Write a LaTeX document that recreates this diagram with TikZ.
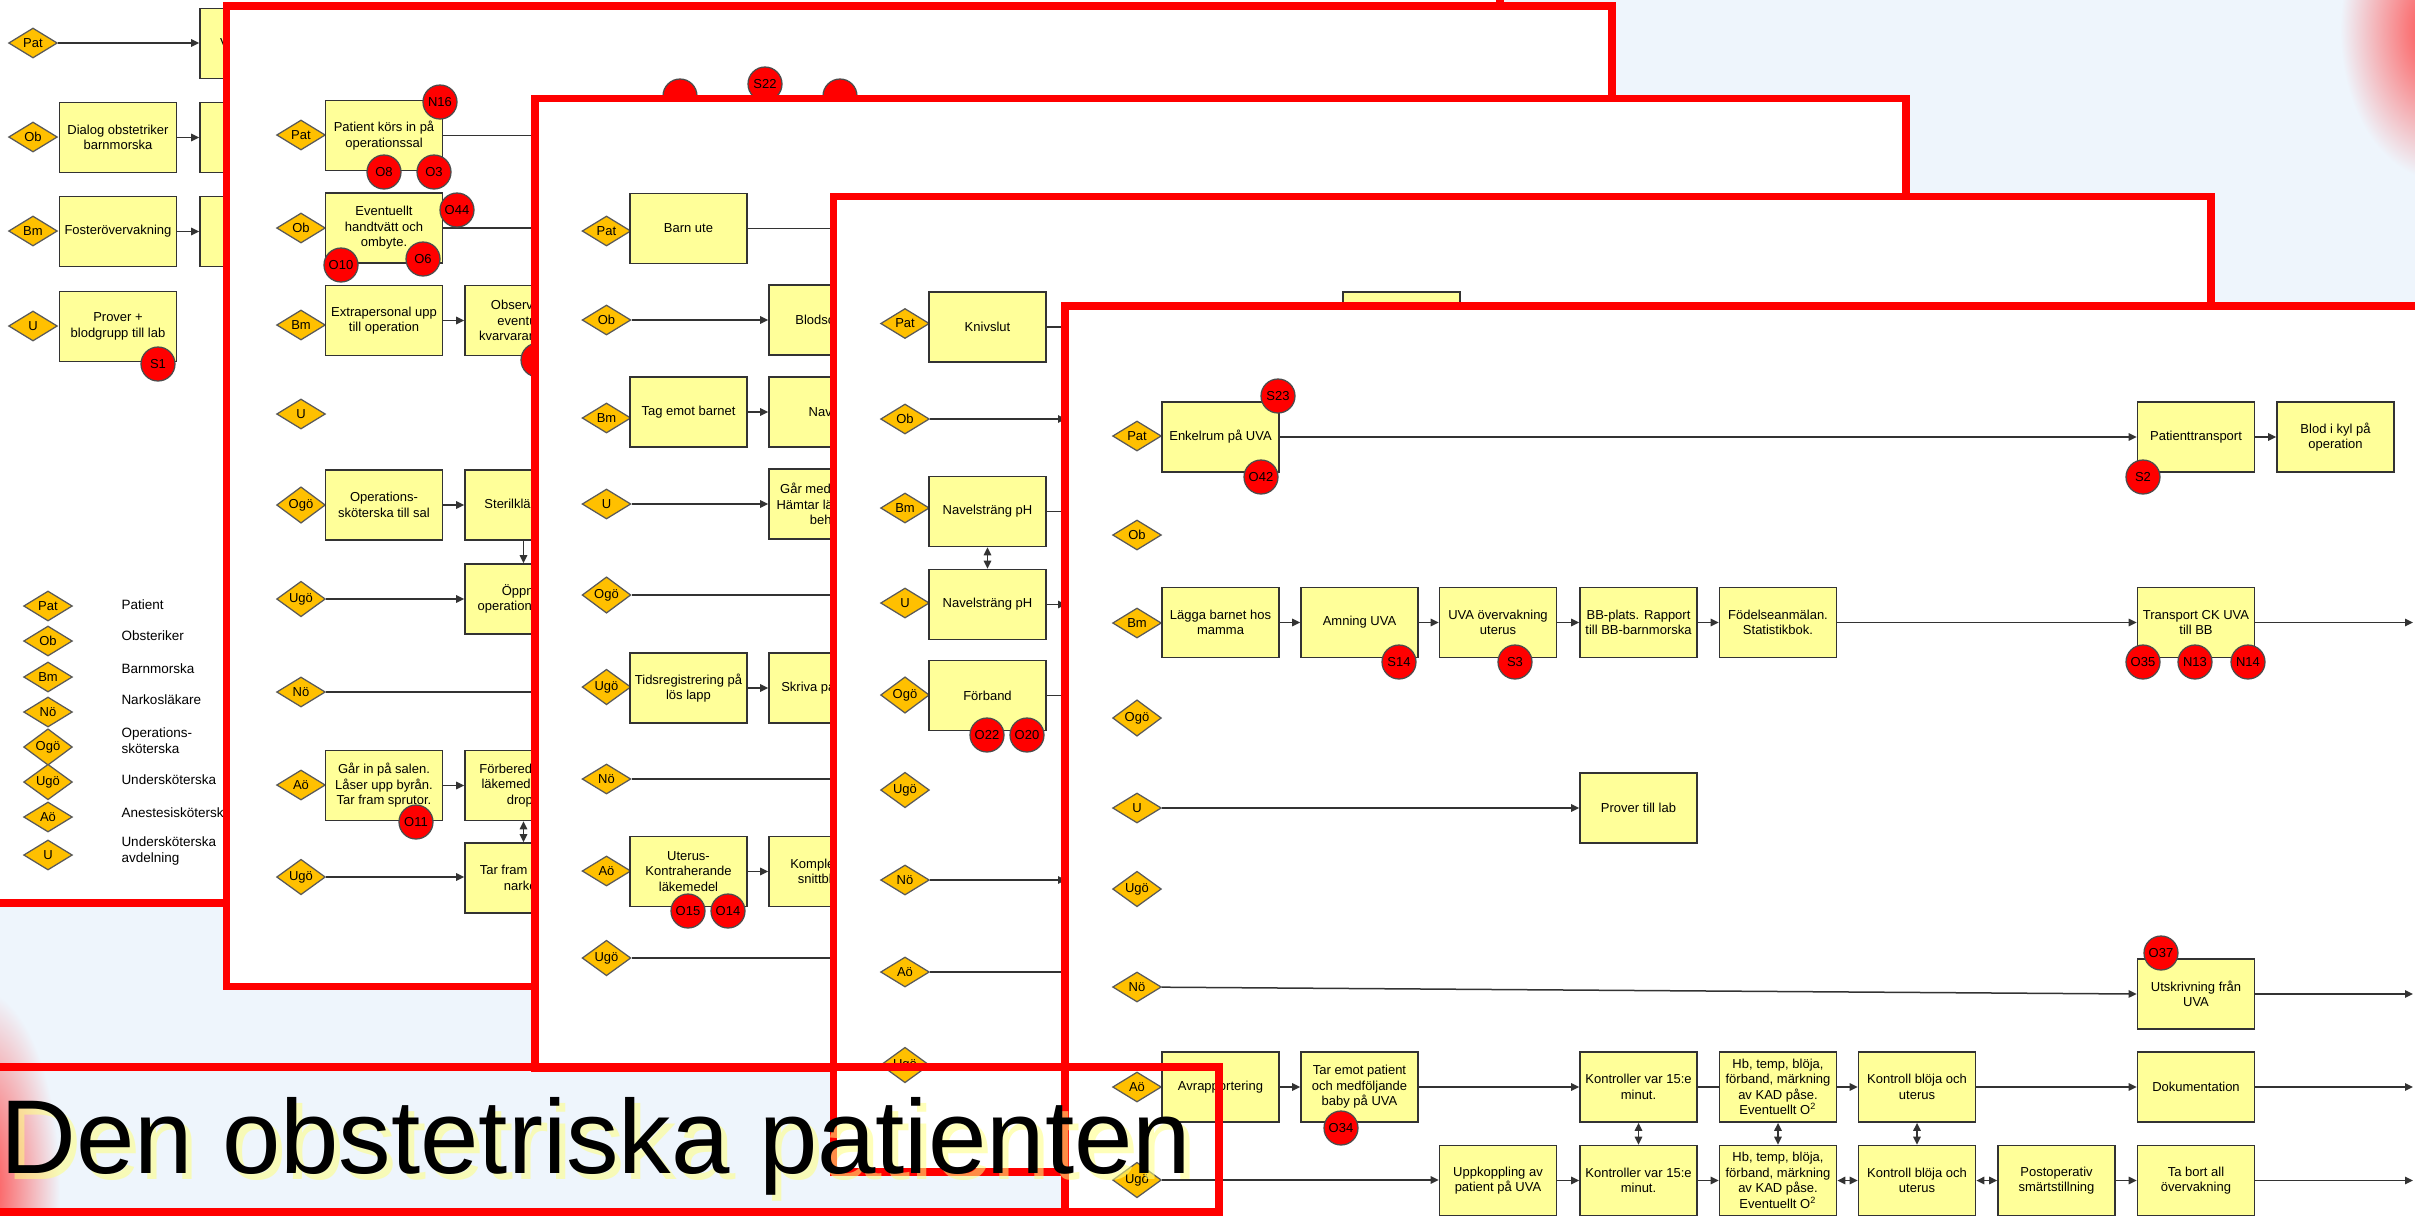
\documentclass[tikz,border=0pt]{standalone}
\usepackage{fontspec}
\setmainfont{Liberation Sans}
\usetikzlibrary{shapes.geometric,arrows.meta}
\definecolor{bgblue}{HTML}{EEF5FC}
\definecolor{boxfill}{HTML}{FFFF99}
\definecolor{diafill}{HTML}{FFC000}
\definecolor{lncol}{HTML}{333333}
\definecolor{glowcol}{HTML}{FFFF80}
\newcommand\bxf{\fontsize{5.2}{6.2}\selectfont}
\newcommand\lgf{\fontsize{5.4}{6.4}\selectfont}
\newcommand\ttf{\fontsize{42}{42}\selectfont}
\tikzset{
 box/.style={draw=lncol, fill=boxfill, line width=0.7pt, minimum width=46.8pt, minimum height=28pt, inner sep=1pt, align=center, font=\bxf},
 dia/.style={diamond, draw=black!65, fill=diafill, line width=0.5pt, minimum width=19.5pt, minimum height=12pt, inner sep=0pt, font=\bxf},
 circ/.style={circle, draw=black!70, fill=red, line width=0.5pt, minimum size=13.6pt, inner sep=0pt, font=\bxf},
 conn/.style={draw=lncol, line width=0.6pt},
 arr/.style={conn, -{Triangle[length=3.2pt,width=3pt]}},
 dbl/.style={conn, {Triangle[length=3.2pt,width=3pt]}-{Triangle[length=3.2pt,width=3pt]}},
 slide/.style={draw=red, line width=2.9pt, fill=white},
 legtxt/.style={anchor=west, inner sep=0pt, align=left, font=\lgf},
}
\begin{document}
\begin{tikzpicture}[x=0.4pt,y=-0.4pt]
\clip (0,0) rectangle (2415,1215);
\fill[bgblue] (0,0) rectangle (2415,1215);
\shade[inner color=red!75!white, outer color=bgblue] (-20,1190) ellipse (80 and 200);
\shade[inner color=red!75!white, outer color=bgblue] (2440,30) ellipse (100 and 150);

% ---------- slide 1 ----------
\draw[slide] (-30,-30) rectangle (1500,903);
\node[dia] (a1) at (33,43) {Pat};
\node[dia] (a2) at (33,137) {Ob};
\node[dia] (a3) at (33,231) {Bm};
\node[dia] (a4) at (33,326) {U};
\node[box] (a1b) at (258.5,43.5) {Väntar på sal};
\node[box] (a2a) at (118,137.5) {Dialog obstetriker\\barnmorska};
\node[box] (a2b) at (258.5,137.5) {};
\node[box] (a3a) at (118,231.5) {Fosterövervakning};
\node[box] (a3b) at (258.5,231.5) {};
\node[box] (a4a) at (118,326.5) {Prover +\\blodgrupp till lab};
\node[circ] (a4c) at (158,364) {S1};
\draw[arr] (a1) -- (a1 -| a1b.west);
\draw[arr] (a2a) -- (a2b);
\draw[arr] (a3a) -- (a3b);
% legend
\node[dia] (l1) at (48,606) {Pat};
\node[dia] (l2) at (48,641) {Ob};
\node[dia] (l3) at (48,677) {Bm};
\node[dia] (l4) at (48,712) {Nö};
\node[dia] (l5) at (48,747) {Ogö};
\node[dia] (l6) at (48,782) {Ugö};
\node[dia] (l7) at (48,817) {Aö};
\node[dia] (l8) at (48,855) {U};
\node[legtxt] (t1) at (121,605) {Patient};
\node[legtxt] (t2) at (121,636) {Obsteriker};
\node[legtxt] (t3) at (121,669) {Barnmorska};
\node[legtxt] (t4) at (121,700) {Narkosläkare};
\node[legtxt] (t5) at (121,741) {Operations-\\sköterska};
\node[legtxt] (t6) at (121,780) {Undersköterska};
\node[legtxt] (t7) at (121,813) {Anestesisköterska};
\node[legtxt] (t8) at (121,851) {Undersköterska\\avdelning};

% ---------- slide 2 ----------
\draw[slide] (226.5,6) rectangle (1612,986.5);
\node[dia] (b1) at (301,135) {Pat};
\node[dia] (b2) at (301,228) {Ob};
\node[dia] (b3) at (301,325) {Bm};
\node[dia] (b4) at (301,414) {U};
\node[dia] (b5) at (301,505) {Ogö};
\node[dia] (b6) at (301,599) {Ugö};
\node[dia] (b7) at (301,692) {Nö};
\node[dia] (b8) at (301,785) {Aö};
\node[dia] (b9) at (301,877) {Ugö};
\node[box] (b1a) at (384,135.5) {Patient körs in på\\operationssal};
\draw[conn] (b1a.east) -- ++(120,0);
\node[circ] (b1c1) at (440,102) {N16};
\node[circ] (b1c2) at (384,172) {O8};
\node[circ] (b1c3) at (434,172) {O3};
\node[box] (b2a) at (384,228) {Eventuellt\\handtvätt och\\ombyte.};
\draw[conn] (b2a.east) -- ++(120,0);
\node[circ] (b2c1) at (457,210) {O44};
\node[circ] (b2c2) at (341,265) {O10};
\node[circ] (b2c3) at (423,259) {O6};
\node[box] (b3a) at (384,320.5) {Extrapersonal upp\\till operation};
\node[box] (b3b) at (523.5,320.5) {Observerar\\eventuell\\kvarvarande tid};
\node[circ] (b3c) at (538,360) {};
\draw[arr] (b3a) -- (b3b);
\node[box] (b5a) at (384,505) {Operations-\\sköterska till sal};
\node[box] (b5b) at (523.5,505) {Sterilklädning};
\draw[arr] (b5a) -- (b5b);
\node[box] (b6b) at (523.5,599) {Öppnar\\operationssalen};
\draw[arr] (b6) -- (b6 -| b6b.west);
\draw[arr] (b5b) -- (b6b);
\draw[conn] (b7.east) -- ++(280,0);
\node[box] (b8a) at (384,785.5) {Går in på salen.\\Låser upp byrån.\\Tar fram sprutor.};
\node[circ] (b8c) at (416,822) {O11};
\node[box] (b8b) at (523.5,785.5) {Förbereder alla\\läkemedel och\\dropp};
\draw[arr] (b8a) -- (b8b);
\node[box] (b9b) at (523.5,878) {Tar fram värme\\narkos};
\draw[dbl] (b8b) -- (b9b);
\draw[arr] (b9) -- (b9 -| b9b.west);
\node[circ] (b0c1) at (680,96) {};
\node[circ] (b0c2) at (765,84) {S22};
\node[circ] (b0c3) at (840,96) {};

% ---------- slide 3 ----------
\draw[slide] (535,98.5) rectangle (1906,1068);
\node[dia] (c1) at (606.5,231) {Pat};
\node[dia] (c2) at (606.5,320) {Ob};
\node[dia] (c3) at (606.5,418) {Bm};
\node[dia] (c4) at (606.5,504) {U};
\node[dia] (c5) at (606.5,595) {Ogö};
\node[dia] (c6) at (606.5,687) {Ugö};
\node[dia] (c7) at (606.5,779) {Nö};
\node[dia] (c8) at (606.5,871) {Aö};
\node[dia] (c9) at (606.5,958) {Ugö};
\node[box] (c1a) at (688.5,228.5) {Barn ute};
\draw[conn] (c1a.east) -- ++(120,0);
\node[box] (c2b) at (827.5,320) {Blodsocker};
\draw[arr] (c2) -- (c2 -| c2b.west);
\node[box] (c3a) at (688.5,412) {Tag emot barnet};
\node[box] (c3b) at (827.5,412) {Navlar};
\draw[arr] (c3a) -- (c3b);
\node[box] (c4b) at (827.5,504) {Går med barnet.\\Hämtar läkare vid\\behov};
\draw[arr] (c4) -- (c4 -| c4b.west);
\draw[conn] (c5.east) -- ++(260,0);
\node[box] (c6a) at (688.5,688) {Tidsregistrering på\\lös lapp};
\node[box] (c6b) at (827.5,688) {Skriva på tavlan};
\draw[arr] (c6a) -- (c6b);
\draw[conn] (c7.east) -- ++(260,0);
\node[box] (c8a) at (688.5,871.5) {Uterus-\\Kontraherande\\läkemedel};
\node[circ] (c8c1) at (688,911) {O15};
\node[circ] (c8c2) at (728,911) {O14};
\node[box] (c8b) at (827.5,871.5) {Kompletterar\\snittbladet};
\draw[arr] (c8a) -- (c8b);
\draw[conn] (c9.east) -- ++(260,0);

% ---------- slide 4 ----------
\draw[slide] (833.5,196.5) rectangle (2211,1172);
\node[dia] (d1) at (905,323.5) {Pat};
\node[dia] (d2) at (905,419) {Ob};
\node[dia] (d3) at (905,508) {Bm};
\node[dia] (d4) at (905,603) {U};
\node[dia] (d5) at (905,695) {Ogö};
\node[dia] (d6) at (905,790) {Ugö};
\node[dia] (d7) at (905,880) {Nö};
\node[dia] (d8) at (905,972) {Aö};
\node[dia] (d9) at (905,1065) {Ugö};
\coordinate (dx2) at (1066,419);
\coordinate (dx4) at (1066,604.5);
\coordinate (dx7) at (1066,880);
\node[box] (d1a) at (987.5,327) {Knivslut};
\draw[conn] (d1a.east) -- ++(40,0);
\draw[arr] (d2) -- (dx2);
\node[box] (d3a) at (987.5,511.5) {Navelsträng pH};
\draw[conn] (d3a.east) -- ++(40,0);
\node[box] (d4a) at (987.5,604.5) {Navelsträng pH};
\draw[dbl] (d3a) -- (d4a);
\draw[arr] (d4a) -- (dx4);
\node[box] (d5a) at (987.5,695.5) {Förband};
\draw[conn] (d5a.east) -- ++(40,0);
\node[circ] (d5c1) at (987,735) {O22};
\node[circ] (d5c2) at (1027,735) {O20};
\draw[arr] (d7) -- (dx7);
\draw[conn] (d8.east) -- ++(180,0);
\node[box] (d1b) at (1401.5,327) {};

% ---------- slide 5 ----------
\draw[slide] (1065,306) rectangle (2600,1400);
\node[dia] (e1) at (1137,436) {Pat};
\node[dia] (e2) at (1137,535) {Ob};
\node[dia] (e3) at (1137,623) {Bm};
\node[dia] (e4) at (1137,718) {Ogö};
\node[dia] (e5) at (1137,808) {U};
\node[dia] (e6) at (1137,889) {Ugö};
\node[dia] (e7) at (1137,987) {Nö};
\node[dia] (e8) at (1137,1087) {Aö};
\node[dia] (e9) at (1137,1180) {Ugö};
% Pat
\node[box] (e1a) at (1220.5,437) {Enkelrum på UVA};
\node[circ] (e1c1) at (1278,396) {S23};
\node[circ] (e1c2) at (1261,477) {O42};
\node[box] (e1b) at (2196,437) {Patienttransport};
\node[circ] (e1c3) at (2143,477) {S2};
\node[box] (e1d) at (2335.5,437) {Blod i kyl på\\operation};
\draw[arr] (e1a) -- (e1b);
\draw[arr] (e1b) -- (e1d);
% Bm
\node[box] (e3a) at (1220.5,622.5) {Lägga barnet hos\\mamma};
\node[box] (e3b) at (1359.5,622.5) {Amning UVA};
\node[circ] (e3c1) at (1399,662) {S14};
\node[box] (e3d) at (1498,622.5) {UVA övervakning\\uterus};
\node[circ] (e3c2) at (1515,662) {S3};
\node[box] (e3e) at (1638.5,622.5) {BB-plats. Rapport\\till BB-barnmorska};
\node[box] (e3f) at (1778,622.5) {Födelseanmälan.\\Statistikbok.};
\node[box] (e3g) at (2196,622.5) {Transport CK UVA\\till BB};
\node[circ] (e3c3) at (2143,662) {O35};
\node[circ] (e3c4) at (2195,662) {N13};
\node[circ] (e3c5) at (2248,662) {N14};
\coordinate (ex3) at (2413,622.5);
\draw[arr] (e3a) -- (e3b);
\draw[arr] (e3b) -- (e3d);
\draw[arr] (e3d) -- (e3e);
\draw[arr] (e3e) -- (e3f);
\draw[arr] (e3f) -- (e3g);
\draw[arr] (e3g) -- (ex3);
% U
\node[box] (e5a) at (1638.5,808) {Prover till lab};
\draw[arr] (e5) -- (e5 -| e5a.west);
% No
\node[box] (e7a) at (2196,994) {Utskrivning från\\UVA};
\node[circ] (e7c) at (2161,953) {O37};
\coordinate (ex7) at (2413,994);
\draw[arr] (e7) -- (e7a.west);
\draw[arr] (e7a) -- (ex7);
% Ao
\node[box] (e8a) at (1220.5,1087) {Avrapportering};
\node[box] (e8b) at (1359.5,1087) {Tar emot patient\\och medföljande\\baby på UVA};
\node[circ] (e8c) at (1341,1128) {O34};
\node[box] (e8d) at (1638.5,1087) {Kontroller var 15:e\\minut.};
\node[box] (e8e) at (1778,1087) {Hb, temp, blöja,\\förband, märkning\\av KAD påse.\\Eventuellt O\textsuperscript{2}};
\node[box] (e8f) at (1917,1087) {Kontroll blöja och\\uterus};
\node[box] (e8g) at (2196,1087) {Dokumentation};
\coordinate (ex8) at (2413,1087);
\draw[arr] (e8a) -- (e8b);
\draw[arr] (e8b) -- (e8d);
\draw[conn] (e8d) -- (e8e);
\draw[arr] (e8e) -- (e8f);
\draw[arr] (e8f) -- (e8g);
\draw[arr] (e8g) -- (ex8);
% Ugo
\node[box] (e9a) at (1498,1180.5) {Uppkoppling av\\patient på UVA};
\node[box] (e9b) at (1638.5,1180.5) {Kontroller var 15:e\\minut.};
\node[box] (e9c) at (1778,1180.5) {Hb, temp, blöja,\\förband, märkning\\av KAD påse.\\Eventuellt O\textsuperscript{2}};
\node[box] (e9d) at (1917,1180.5) {Kontroll blöja och\\uterus};
\node[box] (e9e) at (2056.5,1180.5) {Postoperativ\\smärtstillning};
\node[box] (e9f) at (2196,1180.5) {Ta bort all\\övervakning};
\coordinate (ex9) at (2413,1180.5);
\draw[arr] (e9) -- (e9 -| e9a.west);
\draw[arr] (e9a) -- (e9b);
\draw[arr] (e9b) -- (e9c);
\draw[dbl] (e9c) -- (e9d);
\draw[dbl] (e9d) -- (e9e);
\draw[arr] (e9e) -- (e9f);
\draw[arr] (e9f) -- (ex9);
\draw[dbl] (e8d) -- (e9b);
\draw[dbl] (e8e) -- (e9c);
\draw[dbl] (e8f) -- (e9d);

% ---------- title ----------
\node[anchor=base west, inner sep=0pt, font=\ttf, text=glowcol, opacity=0.55] (glow) at (6,1179) {Den obstetriska patienten};
\node[anchor=base west, inner sep=0pt, font=\ttf] (title) at (0,1173) {Den obstetriska patienten};
\draw[red, line width=2.9pt] (-10,1067) rectangle (1219,1212);
\end{tikzpicture}
\end{document}
